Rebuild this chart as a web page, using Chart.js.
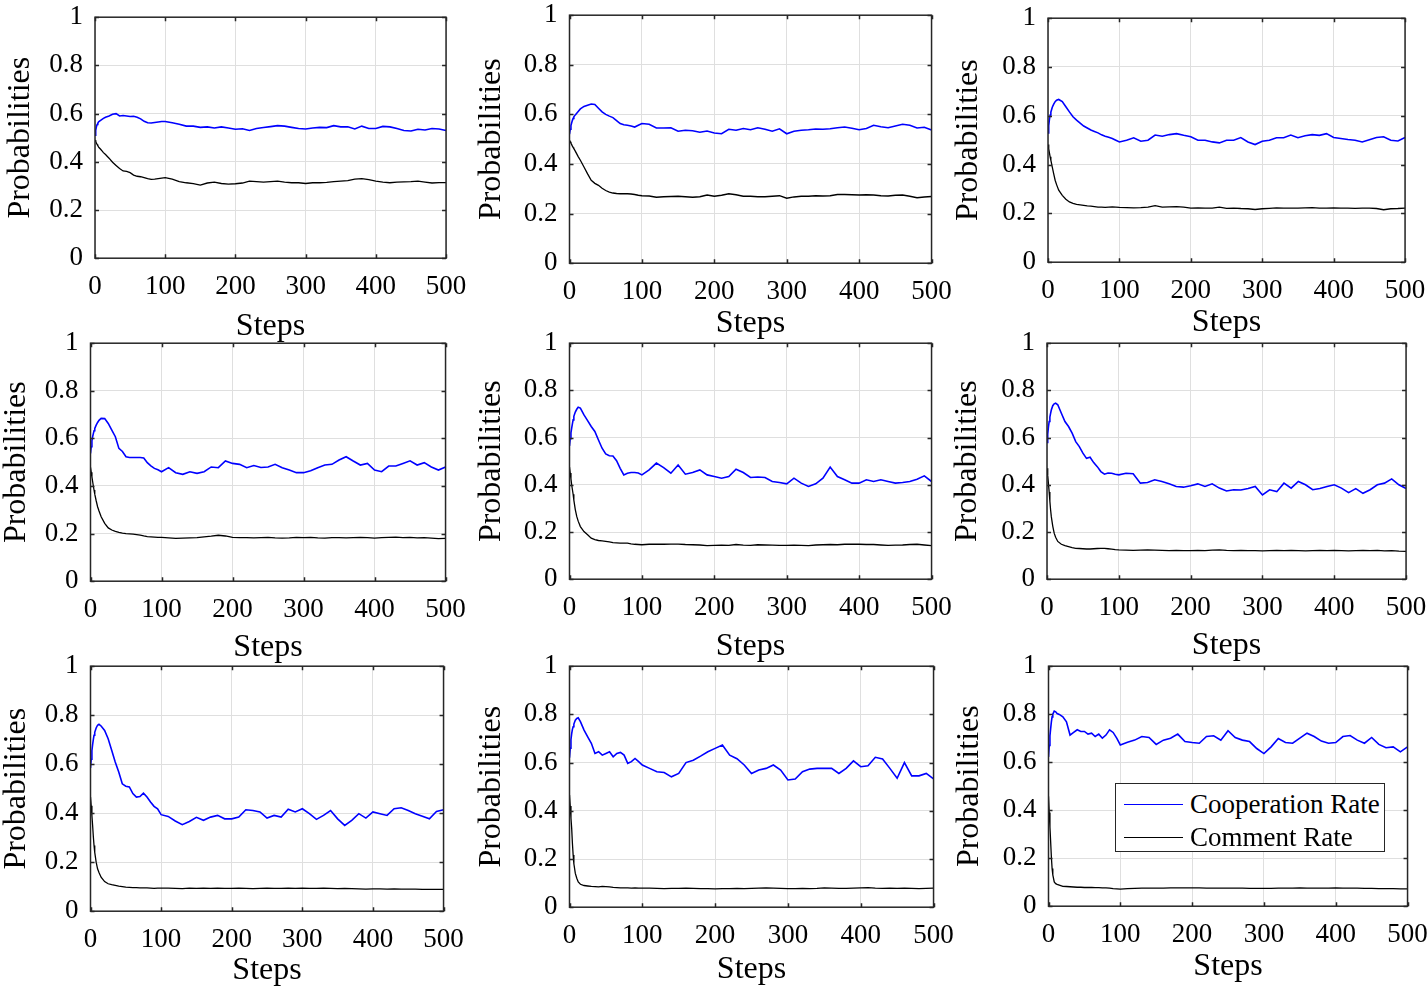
<!DOCTYPE html>
<html>
<head>
<meta charset="utf-8">
<script src="https://cdn.jsdelivr.net/npm/chart.js@4.4.1/dist/chart.umd.min.js"></script>
<style>
  body { margin: 0; background: #fff; width: 1427px; height: 991px; position: relative; overflow: hidden; }
  canvas { position: absolute; }
  #legend { position: absolute; left: 1115px; top: 783px; width: 268px; height: 67px; border: 1.5px solid #262626; background: #fff;
            font-family: "Liberation Serif", "Times New Roman", serif; font-size: 27px; color: #000; }
  #legend .row { position: absolute; left: 0; height: 33px; line-height: 33px; white-space: nowrap; }
  #legend .sw { position: absolute; left: 8px; top: 16px; width: 59px; height: 0; border-top: 1.5px solid; }
  #legend .tx { position: absolute; left: 74px; top: 0; }
</style>
</head>
<body>
<script>
// sample steps (denser at the start, where the curves move fast)
let steps = [0, 1, 2, 3, 4, 5, 6, 8, 10, 12,
  15, 20, 25, 30, 35, 40, 45, 50, 55, 60, 65, 70, 75, 80, 85, 90, 95, 100,
  110, 120, 130, 140, 150, 160, 170, 180, 190, 200, 210, 220, 230, 240, 250, 260, 270, 280, 290, 300,
  310, 320, 330, 340, 350, 360, 370, 380, 390, 400, 410, 420, 430, 440, 450, 460, 470, 480, 490, 500];

let xTicks = [0, 100, 200, 300, 400, 500];
let yTicks = [0, 0.2, 0.4, 0.6, 0.8, 1];
let seriesNames = ["Cooperation Rate", "Comment Rate"];
let seriesColors = ["#0000ff", "#000000"];

// ---- cooperation rate, one per panel ----
let coop1 = [0.51, 0.53, 0.545, 0.555, 0.56, 0.565, 0.568, 0.572, 0.576, 0.58,
  0.585, 0.59, 0.597, 0.6, 0.59, 0.592, 0.59, 0.588, 0.589, 0.585, 0.578, 0.568, 0.562, 0.561, 0.563, 0.565, 0.567, 0.567,
  0.562, 0.556, 0.548, 0.548, 0.543, 0.545, 0.54, 0.545, 0.54, 0.535, 0.537, 0.53, 0.538, 0.542, 0.546, 0.55, 0.548, 0.543, 0.538, 0.536,
  0.54, 0.543, 0.542, 0.55, 0.545, 0.545, 0.536, 0.548, 0.538, 0.538, 0.547, 0.545, 0.538, 0.53, 0.528, 0.535, 0.532, 0.538, 0.536, 0.53];
let coop2 = [0.52, 0.54, 0.555, 0.566, 0.576, 0.584, 0.59, 0.598, 0.605, 0.612,
  0.622, 0.632, 0.637, 0.642, 0.64, 0.625, 0.61, 0.6, 0.593, 0.587, 0.575, 0.563, 0.558, 0.556, 0.553, 0.549, 0.556, 0.563,
  0.56, 0.545, 0.545, 0.546, 0.532, 0.536, 0.534, 0.528, 0.533, 0.525, 0.522, 0.54, 0.536, 0.543, 0.538, 0.546, 0.54, 0.532, 0.542, 0.522,
  0.532, 0.536, 0.538, 0.541, 0.54, 0.542, 0.546, 0.549, 0.544, 0.538, 0.543, 0.556, 0.55, 0.546, 0.553, 0.56, 0.556, 0.545, 0.548, 0.537];
let coop3 = [0.53, 0.56, 0.585, 0.603, 0.615, 0.625, 0.635, 0.648, 0.658, 0.664,
  0.667, 0.658, 0.637, 0.616, 0.596, 0.582, 0.57, 0.558, 0.55, 0.542, 0.536, 0.53, 0.522, 0.516, 0.512, 0.507, 0.5, 0.493,
  0.5, 0.51, 0.496, 0.5, 0.521, 0.516, 0.523, 0.527, 0.52, 0.514, 0.5, 0.5, 0.493, 0.489, 0.5, 0.5, 0.511, 0.493, 0.482, 0.496,
  0.5, 0.51, 0.51, 0.521, 0.51, 0.518, 0.523, 0.52, 0.527, 0.511, 0.507, 0.503, 0.5, 0.493, 0.502, 0.511, 0.514, 0.5, 0.497, 0.511];
let coop4 = [0.537, 0.565, 0.59, 0.607, 0.62, 0.632, 0.642, 0.656, 0.667, 0.676,
  0.684, 0.683, 0.663, 0.635, 0.607, 0.558, 0.545, 0.523, 0.52, 0.52, 0.52, 0.52, 0.518, 0.498, 0.485, 0.474, 0.468, 0.46,
  0.477, 0.456, 0.449, 0.46, 0.453, 0.46, 0.48, 0.477, 0.505, 0.495, 0.491, 0.477, 0.486, 0.478, 0.48, 0.491, 0.477, 0.467, 0.456, 0.456,
  0.464, 0.477, 0.488, 0.491, 0.509, 0.523, 0.505, 0.488, 0.495, 0.467, 0.46, 0.484, 0.484, 0.495, 0.506, 0.488, 0.498, 0.48, 0.467, 0.48];
let coop5 = [0.565, 0.595, 0.62, 0.64, 0.658, 0.675, 0.69, 0.708, 0.72, 0.729,
  0.725, 0.696, 0.672, 0.647, 0.626, 0.59, 0.555, 0.531, 0.523, 0.522, 0.502, 0.47, 0.442, 0.449, 0.452, 0.452, 0.45, 0.442,
  0.463, 0.492, 0.473, 0.449, 0.484, 0.445, 0.452, 0.463, 0.442, 0.435, 0.428, 0.435, 0.466, 0.452, 0.431, 0.433, 0.431, 0.414, 0.41, 0.404,
  0.428, 0.407, 0.393, 0.404, 0.428, 0.475, 0.435, 0.421, 0.407, 0.407, 0.421, 0.414, 0.421, 0.414, 0.407, 0.41, 0.414, 0.424, 0.438, 0.414];
let coop6 = [0.579, 0.615, 0.645, 0.668, 0.687, 0.703, 0.717, 0.735, 0.743, 0.746,
  0.739, 0.703, 0.668, 0.647, 0.619, 0.583, 0.562, 0.534, 0.512, 0.517, 0.494, 0.477, 0.456, 0.445, 0.45, 0.449, 0.445, 0.442,
  0.449, 0.447, 0.407, 0.41, 0.421, 0.414, 0.404, 0.393, 0.39, 0.396, 0.404, 0.393, 0.404, 0.386, 0.374, 0.379, 0.378, 0.384, 0.393, 0.357,
  0.379, 0.371, 0.407, 0.386, 0.414, 0.4, 0.379, 0.384, 0.393, 0.4, 0.386, 0.367, 0.384, 0.364, 0.379, 0.4, 0.407, 0.425, 0.4, 0.384];
let coop7 = [0.585, 0.62, 0.655, 0.68, 0.7, 0.718, 0.73, 0.748, 0.759, 0.763,
  0.756, 0.738, 0.704, 0.657, 0.609, 0.568, 0.52, 0.51, 0.507, 0.48, 0.466, 0.468, 0.482, 0.466, 0.446, 0.428, 0.418, 0.394,
  0.387, 0.368, 0.353, 0.366, 0.383, 0.371, 0.384, 0.391, 0.377, 0.377, 0.384, 0.414, 0.411, 0.405, 0.38, 0.391, 0.384, 0.416, 0.405, 0.418,
  0.398, 0.375, 0.391, 0.411, 0.377, 0.35, 0.371, 0.398, 0.38, 0.405, 0.398, 0.391, 0.418, 0.422, 0.411, 0.398, 0.388, 0.377, 0.407, 0.414];
let coop8 = [0.62, 0.66, 0.695, 0.72, 0.738, 0.749, 0.76, 0.776, 0.783, 0.786,
  0.77, 0.735, 0.707, 0.68, 0.638, 0.645, 0.631, 0.638, 0.645, 0.624, 0.638, 0.642, 0.631, 0.597, 0.604, 0.617, 0.604, 0.59,
  0.576, 0.562, 0.559, 0.541, 0.555, 0.6, 0.61, 0.627, 0.645, 0.659, 0.673, 0.631, 0.616, 0.59, 0.555, 0.569, 0.576, 0.59, 0.569, 0.528,
  0.532, 0.562, 0.573, 0.576, 0.576, 0.576, 0.555, 0.576, 0.607, 0.583, 0.587, 0.622, 0.615, 0.576, 0.535, 0.6, 0.545, 0.545, 0.555, 0.532];
let coop9 = [0.622, 0.67, 0.71, 0.74, 0.768, 0.789, 0.8, 0.813, 0.81, 0.803,
  0.799, 0.789, 0.768, 0.713, 0.724, 0.735, 0.728, 0.728, 0.717, 0.721, 0.707, 0.717, 0.7, 0.713, 0.735, 0.724, 0.7, 0.672,
  0.683, 0.692, 0.707, 0.703, 0.674, 0.692, 0.7, 0.717, 0.686, 0.682, 0.679, 0.707, 0.71, 0.692, 0.731, 0.703, 0.692, 0.686, 0.657, 0.636,
  0.664, 0.699, 0.682, 0.679, 0.7, 0.721, 0.707, 0.688, 0.679, 0.682, 0.707, 0.711, 0.692, 0.679, 0.703, 0.674, 0.66, 0.664, 0.643, 0.664];

// ---- comment rate, one per panel ----
let comm1 = [0.49, 0.485, 0.478, 0.472, 0.467, 0.462, 0.458, 0.452, 0.445, 0.438,
  0.43, 0.415, 0.398, 0.385, 0.372, 0.362, 0.36, 0.355, 0.345, 0.34, 0.338, 0.334, 0.33, 0.327, 0.328, 0.33, 0.332, 0.334,
  0.328, 0.318, 0.313, 0.309, 0.303, 0.312, 0.316, 0.31, 0.307, 0.309, 0.312, 0.32, 0.318, 0.316, 0.318, 0.32, 0.316, 0.313, 0.313, 0.31,
  0.313, 0.313, 0.315, 0.318, 0.32, 0.322, 0.328, 0.33, 0.326, 0.32, 0.316, 0.313, 0.316, 0.317, 0.318, 0.32, 0.316, 0.312, 0.314, 0.314];
let comm2 = [0.495, 0.49, 0.484, 0.478, 0.472, 0.467, 0.462, 0.452, 0.441, 0.43,
  0.415, 0.388, 0.36, 0.334, 0.322, 0.314, 0.302, 0.293, 0.287, 0.283, 0.281, 0.28, 0.28, 0.28, 0.279, 0.277, 0.274, 0.272,
  0.271, 0.266, 0.268, 0.269, 0.27, 0.268, 0.266, 0.268, 0.275, 0.27, 0.274, 0.28, 0.276, 0.27, 0.27, 0.268, 0.268, 0.27, 0.272, 0.262,
  0.267, 0.27, 0.27, 0.272, 0.271, 0.272, 0.277, 0.277, 0.276, 0.275, 0.276, 0.275, 0.272, 0.271, 0.274, 0.275, 0.27, 0.264, 0.267, 0.269];
let comm3 = [0.482, 0.465, 0.448, 0.432, 0.418, 0.404, 0.39, 0.362, 0.336, 0.318,
  0.295, 0.274, 0.258, 0.247, 0.241, 0.237, 0.235, 0.233, 0.231, 0.23, 0.228, 0.226, 0.226, 0.225, 0.226, 0.227, 0.226, 0.225,
  0.224, 0.223, 0.224, 0.226, 0.232, 0.226, 0.227, 0.228, 0.226, 0.222, 0.223, 0.222, 0.222, 0.226, 0.221, 0.222, 0.22, 0.219, 0.216, 0.219,
  0.221, 0.223, 0.222, 0.222, 0.222, 0.223, 0.224, 0.222, 0.222, 0.223, 0.222, 0.222, 0.221, 0.222, 0.222, 0.22, 0.215, 0.219, 0.22, 0.222];
let comm4 = [0.478, 0.458, 0.438, 0.419, 0.4, 0.383, 0.366, 0.338, 0.313, 0.295,
  0.271, 0.243, 0.224, 0.215, 0.209, 0.205, 0.202, 0.2, 0.199, 0.198, 0.196, 0.194, 0.19, 0.187, 0.186, 0.185, 0.184, 0.184,
  0.182, 0.18, 0.181, 0.182, 0.183, 0.186, 0.189, 0.193, 0.19, 0.184, 0.183, 0.183, 0.182, 0.183, 0.184, 0.182, 0.181, 0.182, 0.184, 0.183,
  0.184, 0.182, 0.181, 0.183, 0.183, 0.182, 0.183, 0.184, 0.183, 0.181, 0.183, 0.184, 0.185, 0.183, 0.184, 0.182, 0.183, 0.181, 0.179, 0.18];
let comm5 = [0.475, 0.45, 0.425, 0.4, 0.38, 0.36, 0.335, 0.295, 0.266, 0.246,
  0.223, 0.202, 0.188, 0.174, 0.168, 0.164, 0.162, 0.16, 0.158, 0.155, 0.154, 0.153, 0.153, 0.153, 0.15, 0.148, 0.147, 0.146,
  0.148, 0.149, 0.148, 0.149, 0.149, 0.147, 0.146, 0.145, 0.142, 0.143, 0.144, 0.143, 0.147, 0.144, 0.143, 0.146, 0.145, 0.144, 0.143, 0.143,
  0.144, 0.143, 0.142, 0.145, 0.146, 0.147, 0.146, 0.148, 0.149, 0.148, 0.147, 0.147, 0.145, 0.143, 0.144, 0.145, 0.147, 0.148, 0.145, 0.142];
let comm6 = [0.47, 0.44, 0.405, 0.37, 0.33, 0.294, 0.265, 0.225, 0.195, 0.178,
  0.16, 0.148, 0.142, 0.138, 0.134, 0.131, 0.13, 0.129, 0.128, 0.128, 0.129, 0.13, 0.131, 0.131, 0.129, 0.127, 0.125, 0.124,
  0.123, 0.122, 0.123, 0.124, 0.123, 0.122, 0.121, 0.122, 0.121, 0.121, 0.122, 0.121, 0.123, 0.124, 0.122, 0.121, 0.122, 0.121, 0.121, 0.12,
  0.121, 0.122, 0.121, 0.122, 0.121, 0.12, 0.121, 0.122, 0.121, 0.122, 0.121, 0.12, 0.121, 0.122, 0.121, 0.122, 0.12, 0.121, 0.119, 0.118];
let comm7 = [0.466, 0.43, 0.39, 0.35, 0.305, 0.268, 0.24, 0.2, 0.173, 0.158,
  0.139, 0.121, 0.112, 0.108, 0.105, 0.102, 0.1, 0.098, 0.097, 0.096, 0.096, 0.095, 0.095, 0.095, 0.094, 0.093, 0.094, 0.094,
  0.094, 0.093, 0.092, 0.094, 0.093, 0.094, 0.093, 0.094, 0.093, 0.093, 0.094, 0.093, 0.092, 0.093, 0.094, 0.093, 0.093, 0.094, 0.093, 0.094,
  0.093, 0.093, 0.094, 0.093, 0.092, 0.093, 0.092, 0.091, 0.09, 0.091, 0.091, 0.09, 0.091, 0.09, 0.09, 0.09, 0.089, 0.089, 0.089, 0.089];
let comm8 = [0.465, 0.42, 0.37, 0.327, 0.265, 0.217, 0.18, 0.14, 0.12, 0.105,
  0.095, 0.09, 0.088, 0.086, 0.085, 0.084, 0.086, 0.085, 0.084, 0.082, 0.081, 0.08, 0.08, 0.08, 0.079, 0.08, 0.079, 0.079,
  0.079, 0.078, 0.077, 0.078, 0.078, 0.079, 0.078, 0.077, 0.077, 0.076, 0.077, 0.077, 0.078, 0.077, 0.078, 0.079, 0.08, 0.079, 0.078, 0.077,
  0.077, 0.078, 0.077, 0.078, 0.08, 0.079, 0.078, 0.078, 0.079, 0.08, 0.081, 0.079, 0.078, 0.079, 0.078, 0.079, 0.078, 0.077, 0.078, 0.079];
let comm9 = [0.458, 0.39, 0.33, 0.268, 0.205, 0.157, 0.13, 0.101, 0.094, 0.091,
  0.088, 0.083, 0.082, 0.081, 0.08, 0.079, 0.079, 0.078, 0.078, 0.078, 0.077, 0.077, 0.076, 0.076, 0.075, 0.073, 0.072, 0.071,
  0.073, 0.074, 0.075, 0.075, 0.075, 0.075, 0.076, 0.076, 0.076, 0.076, 0.076, 0.075, 0.075, 0.075, 0.075, 0.075, 0.075, 0.074, 0.074, 0.074,
  0.074, 0.075, 0.075, 0.075, 0.076, 0.075, 0.075, 0.075, 0.075, 0.076, 0.075, 0.075, 0.075, 0.074, 0.074, 0.073, 0.073, 0.073, 0.072, 0.072];

let coopSeries = [coop1, coop2, coop3, coop4, coop5, coop6, coop7, coop8, coop9];
let commSeries = [comm1, comm2, comm3, comm4, comm5, comm6, comm7, comm8, comm9];

// page layout: plot box of each panel, and how far the axis titles sit from it
let panels = [
  { l: 95,   t: 17,  r: 446,  b: 258, yt: 74,   xt: 68 },
  { l: 569,  t: 15,  r: 931,  b: 263, yt: 77.5, xt: 60 },
  { l: 1048, t: 18,  r: 1405, b: 262, yt: 79,   xt: 60 },
  { l: 90,   t: 343, r: 445,  b: 581, yt: 73.5, xt: 66 },
  { l: 569,  t: 343, r: 931,  b: 579, yt: 77.5, xt: 67 },
  { l: 1047, t: 343, r: 1406, b: 579, yt: 79,   xt: 66 },
  { l: 90,   t: 666, r: 443,  b: 911, yt: 73.5, xt: 59 },
  { l: 569,  t: 666, r: 933,  b: 907, yt: 77.5, xt: 62 },
  { l: 1048, t: 666, r: 1407, b: 906, yt: 78.5, xt: 60 }
];

const FONT = '"Liberation Serif", "Times New Roman", serif';
const AXIS = '#262626';
const GRID = '#dfdfdf';
const TITLE_SIZE = 32;

// box + little inward ticks like matlab
const framePlugin = {
  id: 'frame',
  afterDatasetsDraw(chart) {
    const { ctx, chartArea: a, scales } = chart;
    const len = 4;
    ctx.save();
    ctx.strokeStyle = AXIS;
    ctx.lineWidth = 1.5;
    ctx.beginPath();
    scales.x.ticks.forEach(tk => {
      const px = Math.round(scales.x.getPixelForValue(tk.value)) + 0.5;
      ctx.moveTo(px, a.bottom); ctx.lineTo(px, a.bottom - len);
      ctx.moveTo(px, a.top); ctx.lineTo(px, a.top + len);
    });
    scales.y.ticks.forEach(tk => {
      const py = Math.round(scales.y.getPixelForValue(tk.value)) + 0.5;
      ctx.moveTo(a.left, py); ctx.lineTo(a.left + len, py);
      ctx.moveTo(a.right, py); ctx.lineTo(a.right - len, py);
    });
    ctx.stroke();
    ctx.strokeRect(a.left, a.top, a.right - a.left, a.bottom - a.top);
    ctx.restore();
  }
};

function toPoints(vals) {
  return steps.map((s, k) => ({ x: s, y: vals[k] }));
}

panels.forEach((p, i) => {
  const half = TITLE_SIZE / 2;
  const yW = p.yt + half;
  const xH = p.xt + half;
  const padTop = 15, padRight = 25;
  const w = Math.round(yW + (p.r - p.l) + padRight);
  const h = Math.round(padTop + (p.b - p.t) + xH);
  const L0 = p.l - yW, T0 = p.t - padTop;

  const cv = document.createElement('canvas');
  cv.width = w; cv.height = h;
  cv.style.left = L0 + 'px';
  cv.style.top = T0 + 'px';
  document.body.appendChild(cv);

  const chart = new Chart(cv.getContext('2d'), {
    type: 'line',
    data: {
      datasets: [
        { label: seriesNames[0], data: toPoints(coopSeries[i]), borderColor: seriesColors[0], borderWidth: 1.6 },
        { label: seriesNames[1], data: toPoints(commSeries[i]), borderColor: seriesColors[1], borderWidth: 1.3 }
      ]
    },
    options: {
      responsive: false,
      maintainAspectRatio: false,
      animation: false,
      events: [],
      elements: { point: { radius: 0 }, line: { tension: 0 } },
      layout: { padding: { top: padTop, right: padRight, left: 0, bottom: 0 } },
      plugins: { legend: { display: false }, tooltip: { enabled: false } },
      scales: {
        x: {
          type: 'linear', min: 0, max: 500,
          afterBuildTicks: s => { s.ticks = xTicks.map(v => ({ value: v })); },
          afterFit: s => { s.height = xH; },
          ticks: { padding: 13, color: '#000', maxRotation: 0, font: { family: FONT, size: 27 }, callback: v => String(v) },
          grid: { color: GRID, lineWidth: 1, drawTicks: false },
          border: { display: false },
          title: { display: true, text: 'Steps', color: '#000', padding: 0, font: { family: FONT, size: TITLE_SIZE, lineHeight: 1 } }
        },
        y: {
          type: 'linear', min: 0, max: 1,
          afterBuildTicks: s => { s.ticks = yTicks.map(v => ({ value: v })); },
          afterFit: s => { s.width = yW; },
          ticks: { padding: 12, color: '#000', font: { family: FONT, size: 27 }, callback: v => String(+v.toFixed(1)) },
          grid: { color: GRID, lineWidth: 1, drawTicks: false },
          border: { display: false },
          title: { display: true, text: 'Probabilities', color: '#000', padding: 0, font: { family: FONT, size: TITLE_SIZE, lineHeight: 1 } }
        }
      }
    },
    plugins: [framePlugin]
  });

  // the layout adds its own margins for the labels: measure and correct once
  const a = chart.chartArea;
  const dx = p.l - (L0 + a.left);
  const dy = p.t - (T0 + a.top);
  const dw = (p.r - p.l) - (a.right - a.left);
  const dh = (p.b - p.t) - (a.bottom - a.top);
  if (dx || dy || dw || dh) {
    cv.style.left = (L0 + dx) + 'px';
    cv.style.top = (T0 + dy) + 'px';
    chart.resize(w + dw, h + dh);
  }
});

// legend of the last panel, html on top of the canvas
const lg = document.createElement('div');
lg.id = 'legend';
seriesNames.forEach((name, k) => {
  const row = document.createElement('div');
  row.className = 'row';
  row.style.top = (4 + k * 33) + 'px';
  row.style.width = '100%';
  const sw = document.createElement('span');
  sw.className = 'sw';
  sw.style.borderTopColor = seriesColors[k];
  const tx = document.createElement('span');
  tx.className = 'tx';
  tx.textContent = name;
  row.appendChild(sw);
  row.appendChild(tx);
  lg.appendChild(row);
});
document.body.appendChild(lg);
</script>
</body>
</html>
